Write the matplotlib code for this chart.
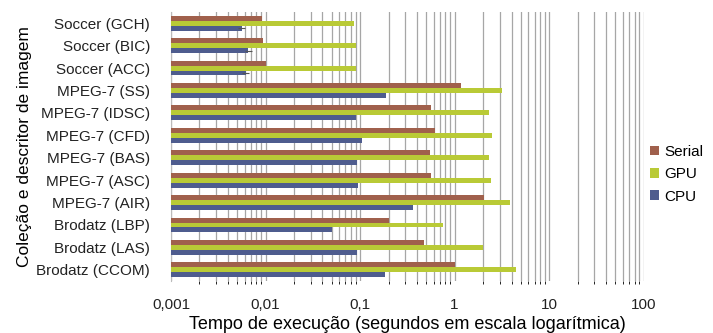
import matplotlib.pyplot as plt
import numpy as np

plt.rcParams['font.family'] = ['Liberation Sans', 'DejaVu Sans']

categories = ['Brodatz (CCOM)', 'Brodatz (LAS)', 'Brodatz (LBP)', 'MPEG-7 (AIR)',
              'MPEG-7 (ASC)', 'MPEG-7 (BAS)', 'MPEG-7 (CFD)', 'MPEG-7 (IDSC)',
              'MPEG-7 (SS)', 'Soccer (ACC)', 'Soccer (BIC)', 'Soccer (GCH)']

serial = [1.0, 0.47, 0.20, 2.04, 0.56, 0.55, 0.62, 0.56, 1.18, 0.0101, 0.0095, 0.0091]
gpu = [4.43, 2.02, 0.755, 3.83, 2.41, 2.29, 2.49, 2.32, 3.21, 0.091, 0.090, 0.086]
cpu = [0.183, 0.092, 0.051, 0.359, 0.0955, 0.0925, 0.105, 0.090, 0.186, 0.0062, 0.0066, 0.0056]
cpu_err = [0, 0, 0, 0, 0, 0, 0, 0, 0, 0.0005, 0.0006, 0.0005]

c_serial = '#A0604C'
c_gpu = '#B9CA36'
c_cpu = '#4E5C8E'

fig = plt.figure(figsize=(7.13, 3.33), dpi=100)
ax = fig.add_axes([0.2398, 0.156, 0.663, 0.808])
ax.set_xscale('log')

y = np.arange(len(categories))
h = 0.22
ax.barh(y + h, serial, height=h, color=c_serial, label='Serial', zorder=3)
ax.barh(y, gpu, height=h, color=c_gpu, label='GPU', zorder=3)
ax.barh(y - h, cpu, height=h, color=c_cpu, label='CPU', zorder=3,
        xerr=cpu_err, error_kw=dict(ecolor='#555555', lw=0.8, capsize=0))

ax.set_xlim(0.001, 100)
ax.set_ylim(-0.5, len(categories) - 0.5)
ax.set_yticks(y)
ax.set_yticklabels(categories)
ax.set_xticks([0.001, 0.01, 0.1, 1, 10, 100])
ax.set_xticklabels(['0,001', '0,01', '0,1', '1', '10', '100'])
ax.tick_params(axis='both', length=0, labelsize=11, colors='#222222')
ax.tick_params(axis='y', pad=15)
ax.tick_params(axis='x', pad=12)

ax.grid(True, which='both', axis='x', color='#A6A6A6', lw=0.9, zorder=0)
for s in ['top', 'right', 'bottom']:
    ax.spines[s].set_visible(False)
ax.spines['left'].set_color('#BBBBBB')

ax.set_xlabel('Tempo de execução (segundos em escala logarítmica)', fontsize=13, labelpad=3)
ax.set_ylabel('Coleção e descritor de imagem', fontsize=12.5, labelpad=3)

fig.legend(loc='center left', bbox_to_anchor=(0.912, 0.477), frameon=False, fontsize=11,
           handlelength=0.6, handleheight=0.6, handletextpad=0.3, labelspacing=0.55,
           borderaxespad=0, borderpad=0)

fig.savefig('out.png', dpi=100)
